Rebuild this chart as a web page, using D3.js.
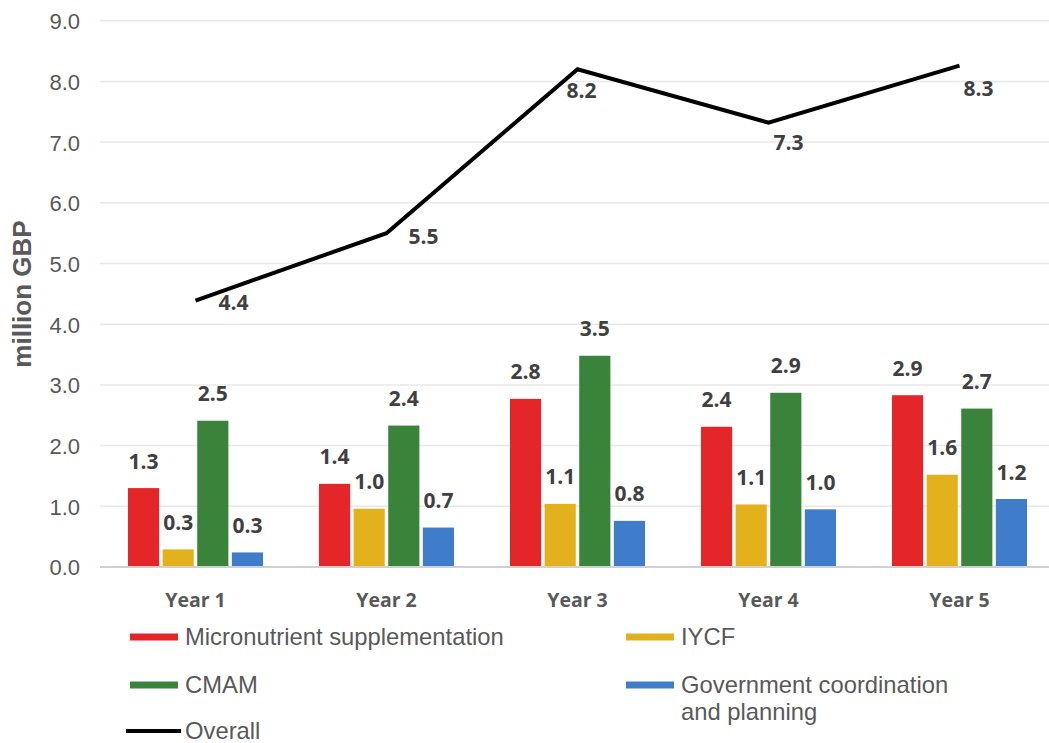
<!DOCTYPE html>
<html><head><meta charset="utf-8">
<script src="https://cdn.jsdelivr.net/npm/d3@7"></script>
<style>body{margin:0;background:#fff}svg{display:block}</style>
</head><body>
<svg id="c" width="1049" height="743"></svg>
<script>
const categories = ["Year 1","Year 2","Year 3","Year 4","Year 5"];
const seriesNames = ["Micronutrient supplementation","IYCF","CMAM","Government coordination and planning"];
const micronutrient = [1.30, 1.37, 2.77, 2.31, 2.83];
const iycf = [0.29, 0.96, 1.04, 1.03, 1.52];
const cmam = [2.41, 2.33, 3.48, 2.87, 2.61];
const government = [0.24, 0.65, 0.76, 0.95, 1.12];
const micronutrientLabels = ["1.3","1.4","2.8","2.4","2.9"];
const iycfLabels = ["0.3","1.0","1.1","1.1","1.6"];
const cmamLabels = ["2.5","2.4","3.5","2.9","2.7"];
const governmentLabels = ["0.3","0.7","0.8","1.0","1.2"];
const overall = [4.39, 5.50, 8.20, 7.32, 8.26];
const overallLabels = ["4.4","5.5","8.2","7.3","8.3"];
const yTicks = [0,1,2,3,4,5,6,7,8,9];

(function(){
// styling
const colors = ["#e52628","#e3b11c","#3a833b","#3f7dcb"];
const lineLabelOffsets = [[38,2],[37,3],[4,21],[20,20],[19,23]];

const svg = d3.select("#c");
const pLeft = 100, pRight = 1055, pTop = 20.7, pBottom = 567;
const x = d3.scaleBand().domain(categories).range([pLeft, pRight]).padding(0);
const xi = d3.scaleBand().domain(d3.range(4)).range([28, x.bandwidth()-28]).paddingInner(0.1);
const y = d3.scaleLinear().domain([0,9]).range([pBottom, pTop]);

// gridlines
svg.append("g").selectAll("line").data(yTicks.filter(d=>d>0)).join("line")
  .attr("x1", pLeft).attr("x2", 1049).attr("y1", d=>y(d)).attr("y2", d=>y(d))
  .attr("stroke","#e8e8e8").attr("stroke-width",1.5);

// y axis labels
const yAxis = d3.axisLeft(y).tickValues(yTicks).tickFormat(d3.format(".1f")).tickSize(0).tickPadding(0);
const ya = svg.append("g").attr("transform",`translate(80,0)`).call(yAxis);
ya.select(".domain").remove();
ya.selectAll("text").attr("font-family","Liberation Sans, Arial, sans-serif").attr("font-size",22).attr("fill","#595959").attr("dy","0.36em");

// y title
svg.append("text").attr("transform","translate(31,294) rotate(-90)")
  .attr("text-anchor","middle").attr("font-family","Liberation Sans, Arial, sans-serif")
  .attr("font-weight","bold").attr("font-size",26).attr("fill","#595959").text("million GBP");

// bars
const seriesVals = [micronutrient, iycf, cmam, government];
const seriesLabels = [micronutrientLabels, iycfLabels, cmamLabels, governmentLabels];
const barData = [];
seriesVals.forEach((vals, s) => vals.forEach((v, i) => barData.push({s, cat: categories[i], v, label: seriesLabels[s][i]})));

svg.append("g").selectAll("rect").data(barData).join("rect")
  .attr("x", d => x(d.cat) + xi(d.s)).attr("width", xi.bandwidth())
  .attr("y", d => y(d.v)).attr("height", d => y(0) - y(d.v))
  .attr("fill", d => colors[d.s]);

svg.append("g").selectAll("text").data(barData).join("text")
  .attr("x", d => x(d.cat) + xi(d.s) + xi.bandwidth()/2)
  .attr("y", d => y(d.v) - 19.5)
  .attr("text-anchor","middle").attr("font-family","Open Sans, sans-serif").attr("font-weight","bold")
  .attr("font-size",21).attr("fill","#404040").text(d => d.label);

// baseline
svg.append("line").attr("x1",pLeft).attr("x2",1049).attr("y1",y(0)).attr("y2",y(0))
  .attr("stroke","#d0d0d0").attr("stroke-width",2);

// category labels
const xAxis = d3.axisBottom(x).tickSize(0).tickPadding(0);
const xa = svg.append("g").attr("transform",`translate(0,${pBottom})`).call(xAxis);
xa.select(".domain").remove();
xa.selectAll("text").attr("font-family","Open Sans, sans-serif").attr("font-weight","bold")
  .attr("font-size",19.5).attr("fill","#595959").attr("dy",null).attr("y",40);

// overall line
const line = d3.line().x((d,i)=>x(categories[i]) + x.bandwidth()/2).y(d=>y(d));
svg.append("path").datum(overall).attr("d", line).attr("fill","none")
  .attr("stroke","#000").attr("stroke-width",4).attr("stroke-linejoin","miter");

svg.append("g").selectAll("text").data(overall).join("text")
  .attr("x",(d,i)=>x(categories[i]) + x.bandwidth()/2 + lineLabelOffsets[i][0])
  .attr("y",(d,i)=>y(d) + lineLabelOffsets[i][1] + 7.5)
  .attr("text-anchor","middle").attr("font-family","Open Sans, sans-serif").attr("font-weight","bold")
  .attr("font-size",21).attr("fill","#404040").text((d,i)=>overallLabels[i]);

// legend
const legendItems = [
  {name: [seriesNames[0]], color: colors[0], x: 130, y: 637, type:"bar"},
  {name: [seriesNames[1]], color: colors[1], x: 626, y: 637, type:"bar"},
  {name: [seriesNames[2]], color: colors[2], x: 130, y: 685, type:"bar"},
  {name: ["Government coordination","and planning"], color: colors[3], x: 626, y: 685, type:"bar"},
  {name: ["Overall"], color: "#000", x: 126, y: 731, type:"line"}
];
const lg = svg.append("g").selectAll("g").data(legendItems).join("g");
lg.append("rect")
  .attr("x", d => d.x).attr("width", d => d.type==="line" ? 55 : 48)
  .attr("y", d => d.y - (d.type==="line"?2:3.5)).attr("height", d => d.type==="line"?4:7)
  .attr("fill", d => d.color);
lg.each(function(d){
  const t = d3.select(this).append("text")
    .attr("font-family","Liberation Sans, Arial, sans-serif").attr("font-size",23.8).attr("fill","#595959");
  d.name.forEach((n,k)=>{
    t.append("tspan").attr("x", d.x + (d.type==="line"?59:55)).attr("y", d.y + 8 + k*27).text(n);
  });
});
})();
</script>
</body></html>
